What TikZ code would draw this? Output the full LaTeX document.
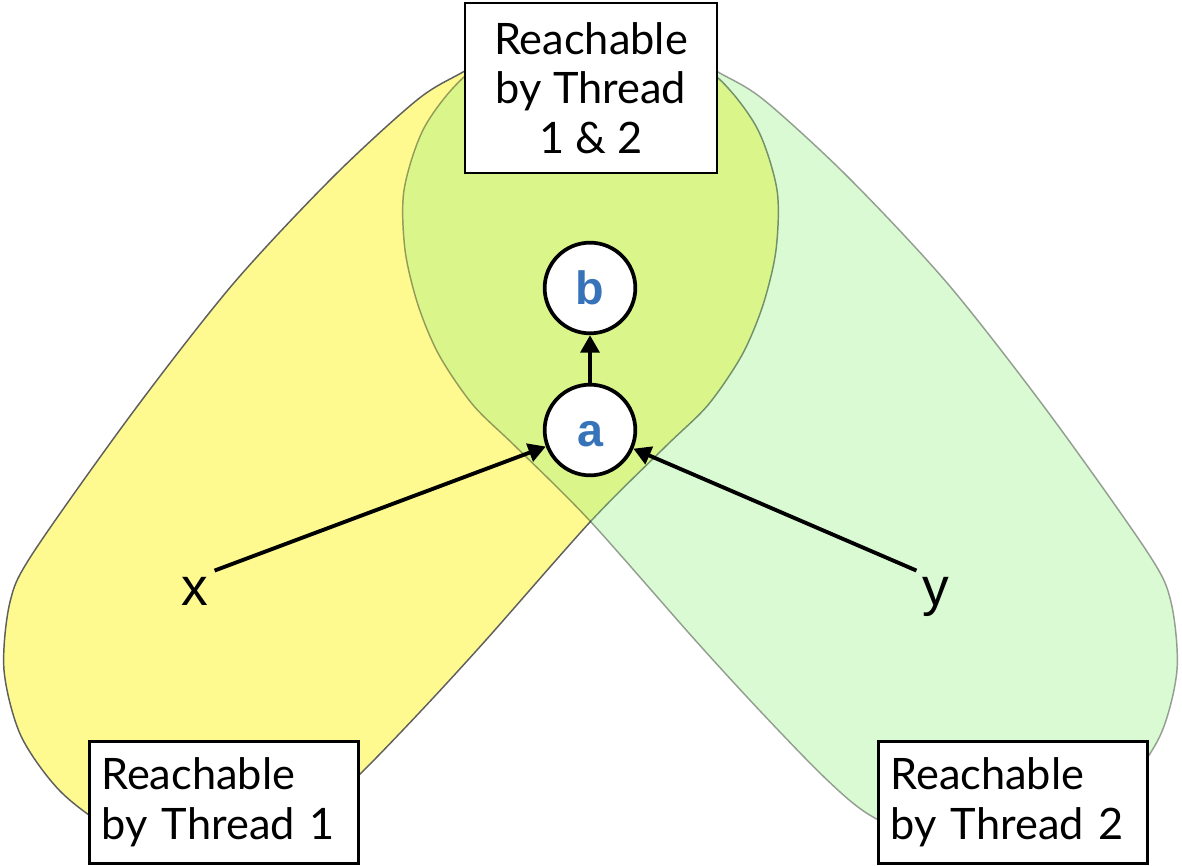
\documentclass[tikz,border=0pt]{standalone}
\usepackage{fontspec}
\setmainfont{Lato}
\newfontfamily\arialfont{Liberation Sans}
\usetikzlibrary{arrows.meta}
\definecolor{blobyellow}{RGB}{255,250,144}
\definecolor{blobgreen}{RGB}{150,240,130}
\definecolor{outlinegray}{RGB}{95,95,95}
\definecolor{labelblue}{RGB}{55,115,185}
\begin{document}
\begin{tikzpicture}[x=0.75pt,y=-0.75pt,
  blob/.style={insert path={plot[smooth cycle,tension=0.5] coordinates {
    (463,72) (525,38) (590,27) (655,38) (717,77) (757,128) (777,190) (776,250)
    (763,305) (742,355) (708,405) (665,447) (591,521) (486,640) (420,712)
    (357,777) (313,814) (251,843) (183,849) (117,832) (61,792) (21,736)
    (4,670) (10,602) (33,553) (133,412) (233,284) (333,177) (417,100)}}},
  labelbox/.style={draw=black, line width=2pt, fill=white,
    font=\fontsize{32.5}{37}\selectfont},
  sidebox/.style={labelbox, anchor=north west, text width=183.75pt,
    inner xsep=9pt, inner ysep=0pt, align=left, minimum height=91.5pt},
  vertex/.style={circle, draw=black, line width=2.8pt, fill=white,
    minimum size=68pt, inner sep=0pt, text height=25pt, text depth=0pt,
    font=\arialfont\bfseries\fontsize{35}{35}\selectfont, text=labelblue},
  arr/.style={line width=2.9pt, -{Triangle[length=13pt,width=14pt]}},
  varlabel/.style={font=\arialfont\fontsize{40}{40}\selectfont, inner sep=4.5pt}
]
\useasboundingbox (0,0) rectangle (1182,866);
\path[blob, fill=blobyellow, draw=outlinegray, line width=1.1pt];
\begin{scope}[xshift=885.75pt, xscale=-1]
  \path[blob, fill=blobgreen, fill opacity=0.35, draw=black, draw opacity=0.37, line width=1.1pt];
\end{scope}

\node[labelbox, minimum width=189pt, minimum height=127.5pt, align=center,
  inner sep=0pt] (both) at (591,88) {Reachable\\by Thread\\1 \& 2};
\node[sidebox] (t1) at (88,740) {Reachable\\by Thread 1};
\node[sidebox] (t2) at (877,740) {Reachable\\by Thread 2};

\node[varlabel, anchor=base] (x) at (195,605) {x};
\node[varlabel, anchor=base] (y) at (936,605) {y};
\node[vertex] (b) at (590,288) {b};
\node[vertex] (a) at (590,430) {a};

\draw[arr] (a) -- (b);
\draw[arr] (x.north east) -- (a);
\draw[arr] (y.north west) -- (a);
\end{tikzpicture}
\end{document}
